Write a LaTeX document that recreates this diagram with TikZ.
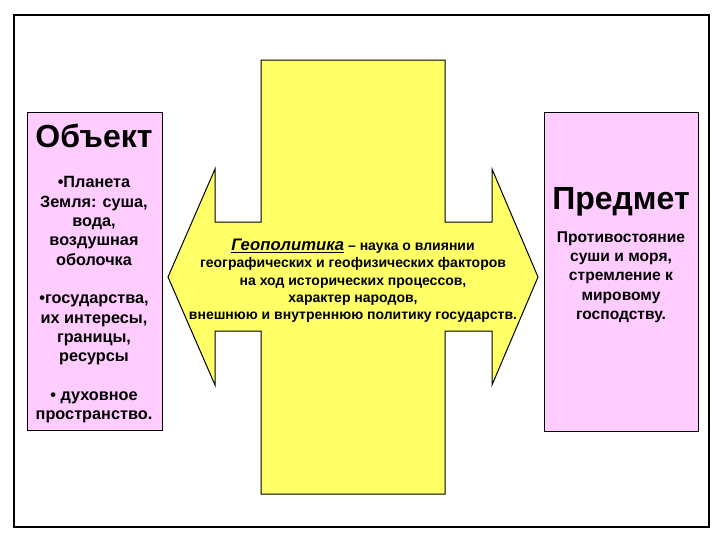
\documentclass[tikz,border=0pt]{standalone}
\usepackage{fontspec}
\setmainfont{Liberation Sans}
\definecolor{boxpink}{RGB}{255,204,255}
\definecolor{crossyellow}{RGB}{255,255,102}
\tikzset{
  sidebox/.style={draw=black, line width=0.75, fill=boxpink},
  bigtitle/.style={inner sep=0.75pt, anchor=base, font=\fontsize{24}{26}\selectfont\bfseries},
  bodytext/.style={inner sep=0.75pt, align=center, font=\fontsize{11.7}{14.5}\selectfont\bfseries},
}
\begin{document}
\begin{tikzpicture}[x=0.75pt,y=0.75pt,yscale=-1,xscale=1]
\useasboundingbox (0,0) rectangle (720,540);
%Shape: Rectangle [frame]
\draw [line width=1.5] (14,15) rectangle (709,527);
%Shape: Cross with double arrow
\draw [line width=0.75, fill=crossyellow] (261,60) -- (445,60) -- (445,222) -- (492,222) -- (492,169) -- (538,277) -- (492,385) -- (492,331) -- (445,331) -- (445,494) -- (261,494) -- (261,331) -- (215,331) -- (215,385) -- (168,277) -- (215,169) -- (215,222) -- (261,222) -- cycle ;
%Shape: Rectangle [left]
\draw [sidebox] (27,112) rectangle (162,430) ;
%Shape: Rectangle [right]
\draw [sidebox] (544,112) rectangle (698,431) ;

% Text Node
\node [bigtitle] (objtitle) at (94,147) {Объект};
% Text Node
\node [bodytext, font=\fontsize{12.2}{14.5}\selectfont\bfseries] (objtext) at (94,300) {•Планета\\Земля: суша,\\вода,\\воздушная\\оболочка\\[14.5pt]•государства,\\их интересы,\\границы,\\ресурсы\\[14.5pt]• духовное\\пространство.};
% Text Node
\node [bigtitle] (subjtitle) at (621,209) {Предмет};
% Text Node
\node [bodytext] (subjtext) at (621,277) {Противостояние\\суши и моря,\\стремление к\\мировому\\господству.};
% Text Node
\node [inner sep=0.75pt, align=center, font=\fontsize{10.5}{13}\selectfont\bfseries] (geotext) at (353,281) {{\fontsize{12.5}{13}\selectfont\itshape\underline{Геополитика}} – наука о влиянии\\географических и геофизических факторов\\на ход исторических процессов,\\характер народов,\\внешнюю и внутреннюю политику государств.};
\end{tikzpicture}
\end{document}
